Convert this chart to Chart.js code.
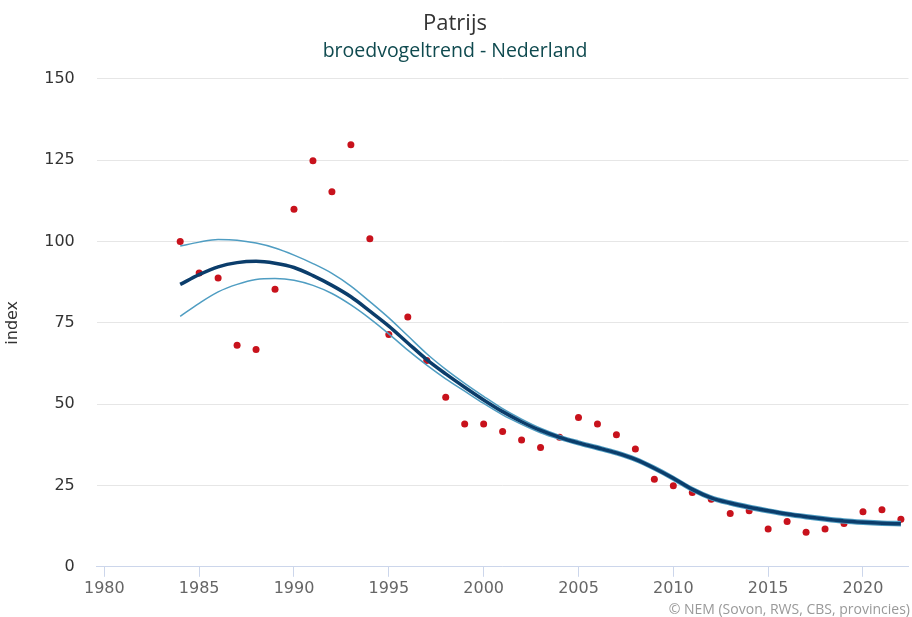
<!DOCTYPE html>
<html>
<head>
<meta charset="utf-8">
<script src="https://cdn.jsdelivr.net/npm/chart.js@4.4.0/dist/chart.umd.min.js"></script>
<style>
  html, body { margin: 0; padding: 0; background: #fff; }
  #wrap { width: 912px; height: 617px; position: relative; }
</style>
</head>
<body>
<div id="wrap"><canvas id="trendChart"></canvas></div>
<script>
const years = [1984, 1985, 1986, 1987, 1988, 1989, 1990, 1991, 1992, 1993,
  1994, 1995, 1996, 1997, 1998, 1999, 2000, 2001, 2002, 2003,
  2004, 2005, 2006, 2007, 2008, 2009, 2010, 2011, 2012, 2013,
  2014, 2015, 2016, 2017, 2018, 2019, 2020, 2021, 2022];

// jaarlijkse indexen (rode punten)
const indexValues = [100, 90.3, 88.8, 68.1, 66.8, 85.3, 109.9, 124.8, 115.3, 129.7,
  100.8, 71.4, 76.8, 63.4, 52.1, 43.9, 43.9, 41.6, 39.0, 36.7,
  39.8, 45.9, 43.9, 40.6, 36.2, 26.9, 24.9, 22.8, 20.8, 16.4,
  17.2, 11.6, 13.9, 10.6, 11.6, 13.3, 16.9, 17.5, 14.6];

// trend en betrouwbaarheidsband
const trend = [86.8, 89.8, 92.2, 93.5, 93.9, 93.3, 92.0, 89.5, 86.5, 83.0,
  78.6, 74.0, 68.8, 63.7, 59.3, 55.2, 51.3, 47.7, 44.6, 41.9,
  39.8, 38.1, 36.6, 35.0, 33.0, 30.3, 27.2, 23.8, 21.2, 19.6,
  18.3, 17.2, 16.2, 15.4, 14.7, 14.1, 13.7, 13.4, 13.2];

const upper = [98.6, 99.8, 100.6, 100.4, 99.5, 98.0, 95.8, 93.2, 90.2, 86.3,
  81.5, 76.5, 71.0, 65.5, 60.7, 56.4, 52.4, 48.6, 45.4, 42.6,
  40.4, 38.7, 37.2, 35.6, 33.6, 30.9, 27.8, 24.4, 21.8, 20.2,
  18.9, 17.8, 16.8, 16.0, 15.3, 14.7, 14.3, 14.0, 13.9];

const lower = [77.0, 81.0, 84.5, 86.8, 88.3, 88.6, 88.1, 86.5, 84.0, 80.5,
  76.3, 71.6, 66.6, 62.0, 57.8, 54.0, 50.2, 46.7, 43.8, 41.2,
  39.2, 37.5, 36.0, 34.4, 32.4, 29.7, 26.6, 23.2, 20.6, 19.0,
  17.7, 16.6, 15.6, 14.8, 14.1, 13.5, 13.1, 12.8, 12.6];

// as-labels
const xTicks = [1980, 1985, 1990, 1995, 2000, 2005, 2010, 2015, 2020];
const yTicks = [0, 25, 50, 75, 100, 125, 150];

const TITLE_FONT = "'Open Sans', 'DejaVu Sans', sans-serif";
const AXIS_FONT = "'DejaVu Sans', sans-serif";

function toPoints(values) {
  return years.map((y, i) => ({ x: y, y: values[i] }));
}

// bronvermelding rechtsonder
const creditsPlugin = {
  id: 'credits',
  afterDraw(chart) {
    const ctx = chart.ctx;
    ctx.save();
    ctx.font = '14px ' + TITLE_FONT;
    ctx.fillStyle = '#999999';
    ctx.textAlign = 'right';
    ctx.textBaseline = 'alphabetic';
    ctx.fillText('© NEM (Sovon, RWS, CBS, provincies)', 910, 614);
    ctx.restore();
  }
};

const bandLine = {
  borderColor: '#4f9dc2',
  borderWidth: 1.5,
  pointRadius: 0,
  fill: false,
  tension: 0.4,
  cubicInterpolationMode: 'monotone'
};

new Chart(document.getElementById('trendChart'), {
  type: 'line',
  data: {
    datasets: [
      Object.assign({ label: 'bovengrens', data: toPoints(upper), order: 2 }, bandLine),
      Object.assign({ label: 'ondergrens', data: toPoints(lower), order: 2 }, bandLine),
      {
        label: 'trend',
        data: toPoints(trend),
        borderColor: '#0b3d6b',
        borderWidth: 3.5,
        pointRadius: 0,
        fill: false,
        tension: 0.4,
        cubicInterpolationMode: 'monotone',
        order: 1
      },
      {
        label: 'index',
        data: toPoints(indexValues),
        showLine: false,
        pointRadius: 3.5,
        pointHoverRadius: 3.5,
        pointBackgroundColor: '#c8121c',
        pointBorderWidth: 0,
        borderColor: '#c8121c',
        order: 3
      }
    ]
  },
  options: {
    responsive: true,
    maintainAspectRatio: false,
    animation: false,
    layout: {
      padding: { left: 0, right: 2, top: 4, bottom: 17 }
    },
    plugins: {
      legend: { display: false },
      tooltip: { enabled: false },
      title: {
        display: true,
        text: 'Patrijs',
        color: '#333333',
        font: { family: TITLE_FONT, size: 22, weight: 'normal' },
        padding: { top: 7, bottom: 2 }
      },
      subtitle: {
        display: true,
        text: 'broedvogeltrend - Nederland',
        color: '#0f4a4f',
        font: { family: TITLE_FONT, size: 19.5, weight: 'normal' },
        padding: { top: 0, bottom: 16 }
      }
    },
    scales: {
      x: {
        type: 'linear',
        min: 1979.6,
        max: 2022.4,
        afterBuildTicks(axis) {
          axis.ticks = xTicks.map(v => ({ value: v }));
        },
        grid: {
          drawOnChartArea: false,
          drawTicks: true,
          tickLength: 10,
          tickColor: '#ccd6eb'
        },
        border: { display: true, color: '#ccd6eb', width: 1 },
        ticks: {
          color: '#666666',
          font: { family: AXIS_FONT, size: 16 },
          padding: 2,
          maxRotation: 0,
          callback: v => String(v)
        }
      },
      y: {
        min: 0,
        max: 150,
        afterBuildTicks(axis) {
          axis.ticks = yTicks.map(v => ({ value: v }));
        },
        grid: {
          color: '#e6e6e6',
          drawTicks: false
        },
        border: { display: false },
        ticks: {
          color: '#333333',
          font: { family: AXIS_FONT, size: 16 },
          padding: 22
        },
        title: {
          display: true,
          text: 'index',
          color: '#333333',
          font: { family: AXIS_FONT, size: 16 },
          padding: { top: 3, bottom: 0 }
        }
      }
    }
  },
  plugins: [creditsPlugin]
});
</script>
</body>
</html>
